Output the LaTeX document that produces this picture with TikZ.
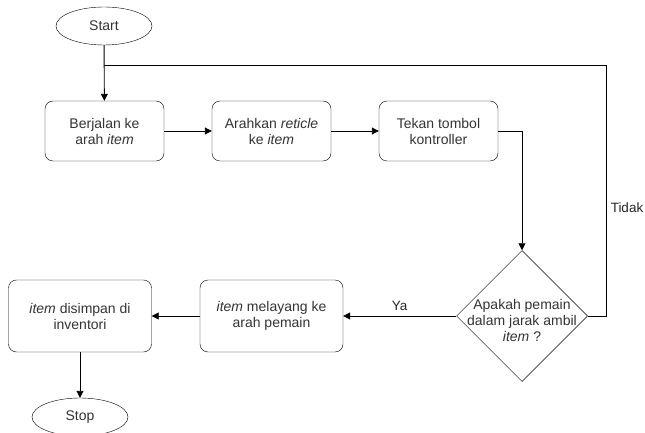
\documentclass[tikz,border=0pt]{standalone}
\usepackage{fontspec}
\setmainfont{Liberation Sans}
\usetikzlibrary{shapes.geometric,arrows.meta}
\begin{document}
\begin{tikzpicture}[x=1pt,y=-1pt,
  every node/.style={font=\fontsize{14}{16}\selectfont, text=black!80},
  terminal/.style={draw, ellipse, minimum width=96pt, minimum height=38pt, inner sep=0pt},
  process/.style={draw, rounded corners=8pt, minimum width=119pt, minimum height=60pt, align=center, inner sep=1pt},
  wideproc/.style={process, minimum width=143pt, minimum height=72pt},
  decision/.style={draw, diamond, minimum width=131pt, minimum height=131pt, inner sep=0pt, align=center, line width=0.5pt},
  flow/.style={draw, line width=0.9pt, -{Triangle[length=7pt,width=7pt]}},
  lbl/.style={font=\fontsize{13.5}{15}\selectfont, text=black!85}]
\path[use as bounding box] (0,0) rectangle (645,433);
\begin{scope}
\clip (0,0) rectangle (645,433);
\node[terminal] (start) at (104,26) {Start};
\node[process] (walk) at (104.5,131) {Berjalan ke\\arah \textit{item}};
\node[process] (aim) at (271.5,131) {Arahkan \textit{reticle}\\ke \textit{item}};
\node[process] (press) at (438.5,131) {Tekan tombol\\kontroller};
\node[decision] (check) at (522,316) {};
\node[align=center, inner sep=0pt] (checktext) at (522,320) {Apakah pemain\\dalam jarak ambil\\\textit{item} ?};
\node[wideproc] (float) at (271.5,316) {\textit{item} melayang ke\\arah pemain};
\node[wideproc] (store) at (80,316) {\textit{item} disimpan di\\inventori};
\node[terminal] (stop) at (80,417) {Stop};
\coordinate (join) at (104,65);
\coordinate (loopR) at (606,65);

\draw[flow] (start) -- (walk);
\draw[flow] (walk) -- (aim);
\draw[flow] (aim) -- (press);
\draw[flow] (press.east) -| (check.north);
\draw[line width=0.9pt] (check.east) -| (loopR) -- (join);
\node[lbl] (tidak) at (627,208) {Tidak};
\draw[flow] (check.west) -- node[lbl, above=2pt, pos=0.5] (ya) {Ya} (float.east);
\draw[flow] (float) -- (store);
\draw[flow] (store) -- (stop);
\end{scope}
\end{tikzpicture}
\end{document}
